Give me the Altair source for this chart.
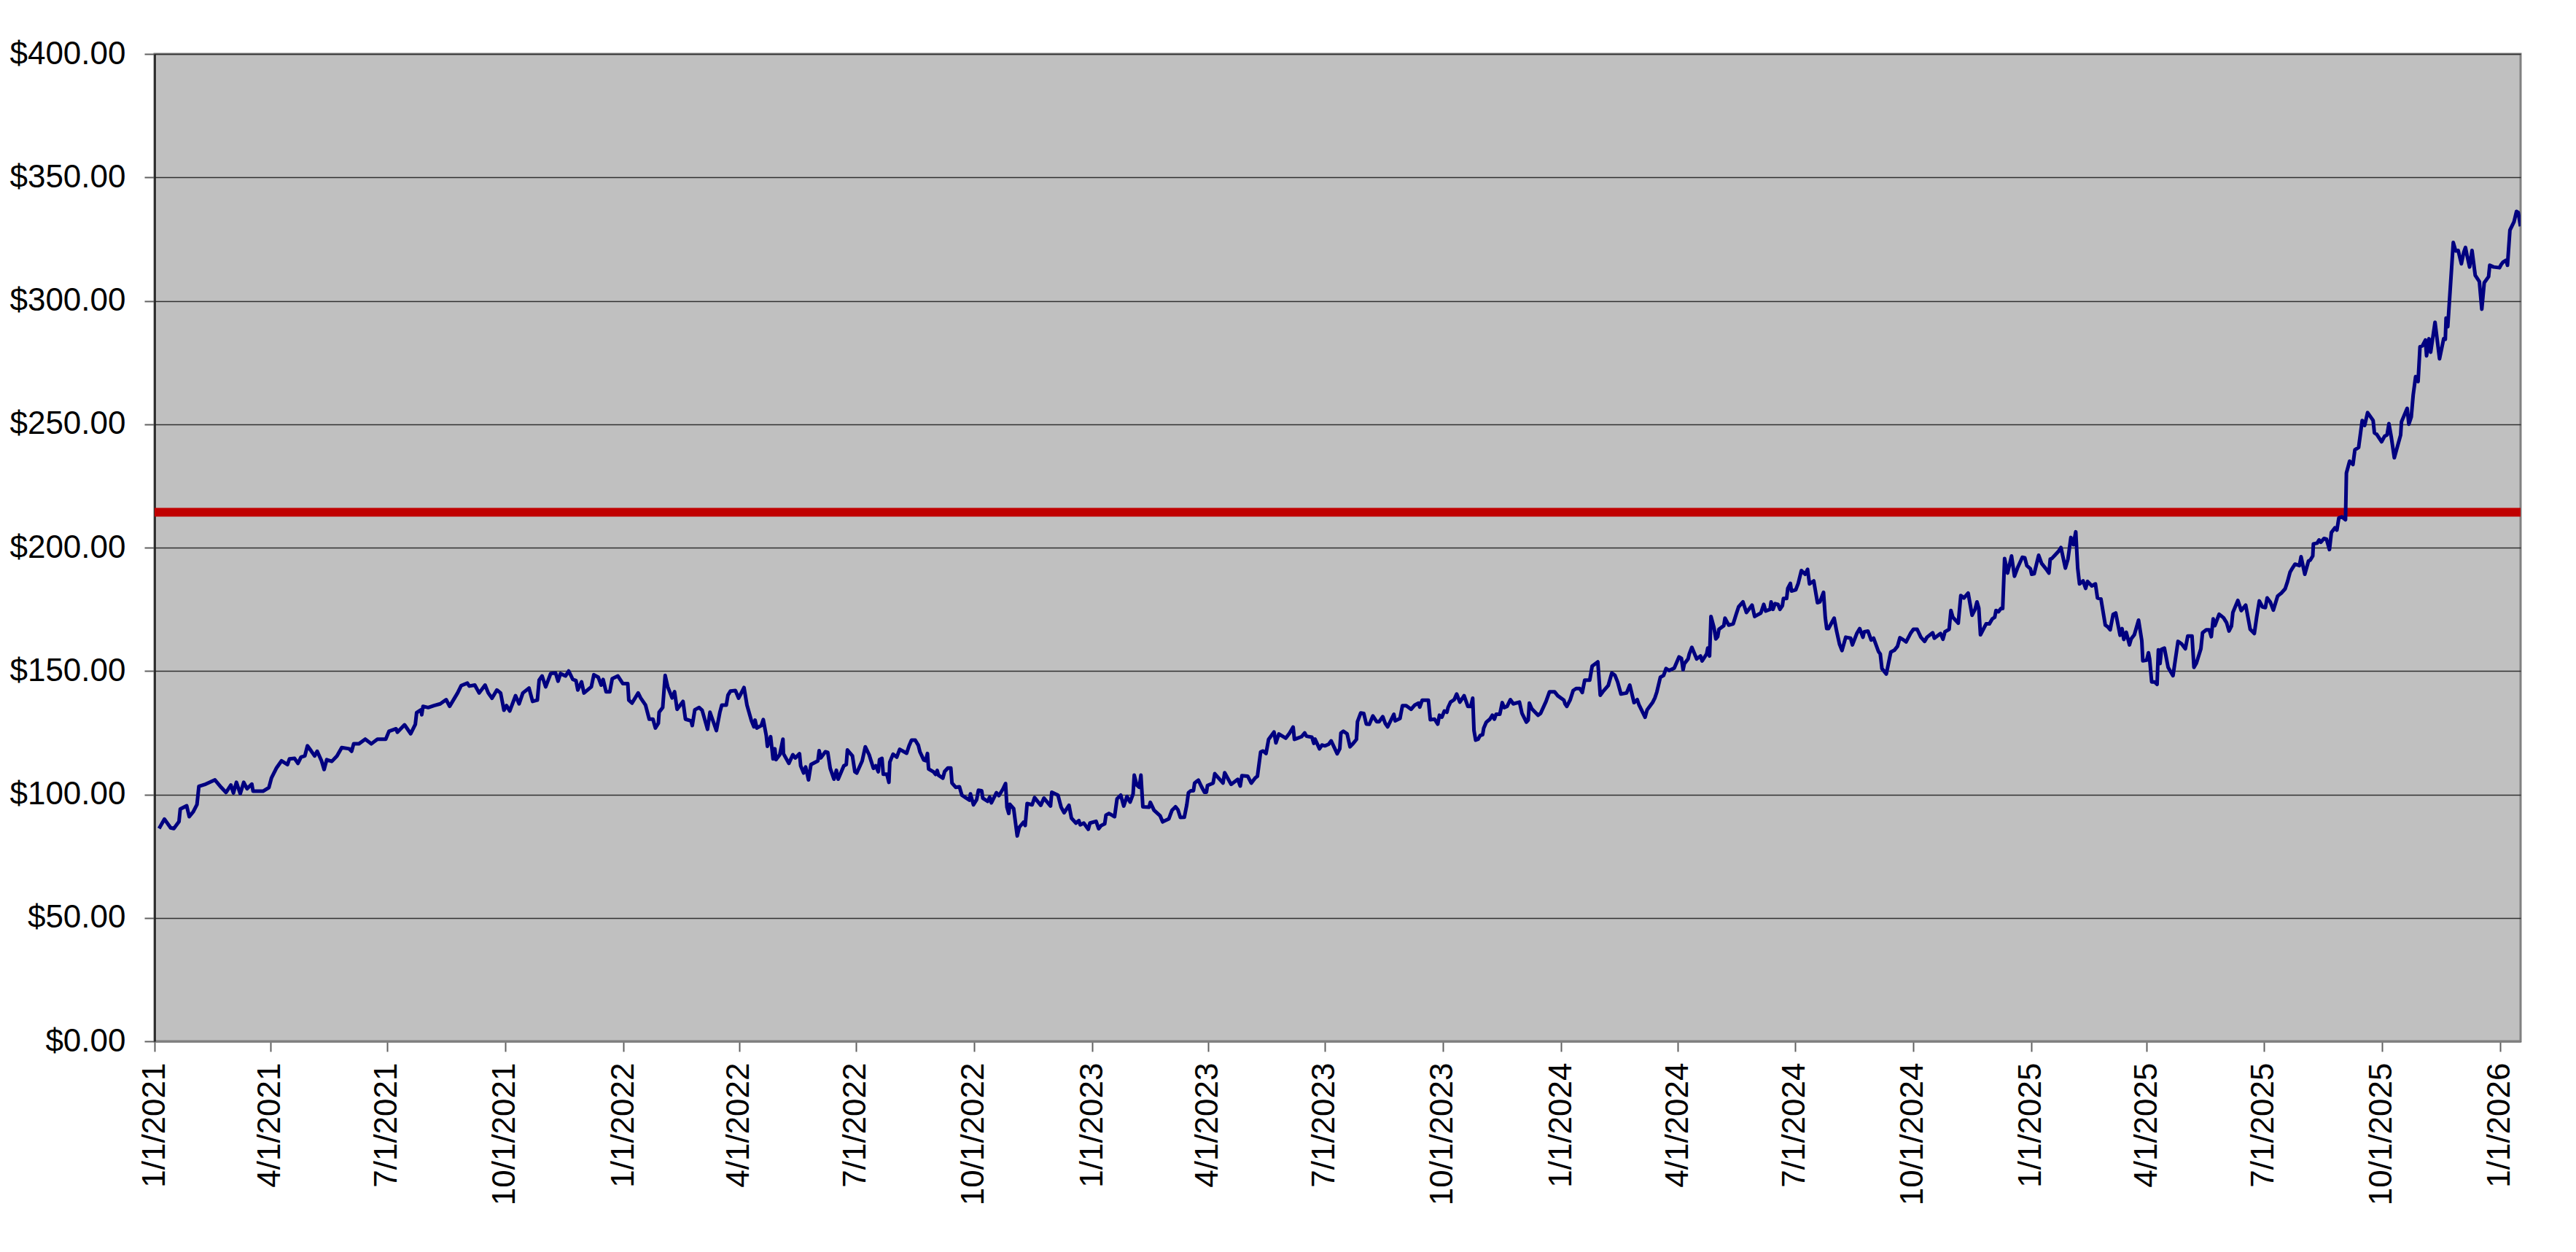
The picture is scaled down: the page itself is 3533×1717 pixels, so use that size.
import altair as alt
import pandas as pd

# Day offsets from 1/1/2021 and closing prices
days = [
    3.5, 7.7, 12.5, 15, 19, 20, 25, 27, 30, 33, 34.5, 39, 47, 52, 55.6, 59.4, 61.4, 63.7, 66.7, 69.4,
    72, 75.7, 76.7, 84.4, 89, 91, 95, 98.8, 103.5, 105, 109, 111.6, 114, 117, 119, 121.8, 124.6, 126.6,
    130, 132, 134, 138, 142, 145.7, 151.5, 153.4, 155, 159, 164, 168.7, 173.5, 180, 182.5, 188, 189,
    194.6, 199.4, 203, 204, 207.5, 208, 209, 213, 217.6, 222.4, 227, 229.7, 235.9, 238.7, 243.5, 245,
    249.3, 252.7, 257.3, 259.8, 262.7, 266.5, 269.4, 272, 274, 276.5, 281, 283.8, 286.7, 291.5, 294.3, 298,
    299.4, 301.7, 304.5, 308.4, 312.2, 314.1, 316, 319.9, 322.4, 325.6, 328.1, 329.5, 332.4, 334.3, 340,
    342, 345.4, 347.7, 349.2, 351.5, 354.4, 356.3, 360.7, 364.6, 368.4, 369.2, 371.7, 376.5, 378.4, 382.2,
    385.1, 388, 389.9, 392.2, 392.8, 395.6, 397.5, 399.5, 402.9, 404.8, 406.8, 411.4, 413.3, 417.7, 418.6,
    420.6, 424, 426.3, 430.5, 432.4, 437.4, 440.1, 441.6, 445.1, 446.4, 448.4, 452.2, 454.7, 458.9, 461.2,
    464.7, 466.6, 467.5, 468.9, 472.3, 473.9, 476.2, 477.1, 479.6, 481.5, 482.9, 483.8, 486.7, 489.2, 489.6,
    493.8, 496.9, 498.8, 502.1, 503, 505.3, 506.9, 509.1, 511, 516.4, 517.4, 518.7, 522.2, 524.1, 526,
    528.9, 530.8, 532.2, 536.6, 538.5, 539.4, 543.3, 545.2, 546.7, 550.9, 553.3, 556.3, 559.6, 561.5, 563.4,
    564.4, 566.3, 567.3, 570.1, 571.7, 572.4, 574.9, 577.8, 580.1, 585.5, 587.4, 589.3, 592.2,
    594.6, 595.9, 598.8, 600.3, 601.7, 602.6, 606.5, 608, 609.3, 610.3, 613.7, 615.1, 617.6, 619.9, 620.8,
    623.7, 626.6, 628.5, 631.4, 634.3, 635.2, 637.5, 640, 641.4, 643.9, 644.8, 648.6, 650.2, 651.5, 655.4,
    657.3, 660.5, 662.5, 663.6, 665, 665.9, 668.8, 671.6, 673.2, 676.4, 677.8, 679.3, 683.2, 685.1, 689.9,
    692.4, 697.5, 698.5, 703.3, 705.8, 708.1, 711.9, 713.8, 717.3, 719.6, 720.6, 723.4, 726.9, 728.2, 733,
    735, 736.9, 739.7, 740.7, 743, 747.4, 749.3, 752.2, 754.5, 757, 759.5, 761.8, 762.7, 764.7, 766.6,
    767.9, 769.4, 774.2, 775.2, 778.1, 782.9, 784.8, 789.6, 792.1, 794.8, 796.7, 798.6, 801.7, 803.6, 804.9,
    806.8, 808.8, 809.7, 811.6, 812.6, 815.1, 817.4, 818.9, 819.7, 824.1, 825.4, 831.8, 833.1, 838.1, 839.4,
    843.3, 845.2, 846.5, 851, 853.8, 856.7, 858.6, 861.1, 863, 865.3, 867.3, 871.5, 873, 875.3, 880.7,
    883.6, 886.4, 887.4,
    892.9, 895.4, 896.8, 901, 902.5, 903.5, 906.9, 908.8, 911.1, 914, 916, 920.7, 922.7, 923.6, 925.5,
    928.4, 930.7, 933.2, 935.7, 936.5, 939, 941.4, 943.4, 945.7, 948.5, 951.4, 953.3, 956.2, 958.1, 960,
    964.8, 965.8, 969.6, 971.5, 974.4, 978.3, 981.1, 984, 985, 986.9, 991.7, 993.2, 996.5, 999, 1000.3,
    1002.2, 1004.1, 1006.1, 1007, 1008.9, 1011.8, 1013.7, 1016.2, 1019.5, 1022.4, 1024.7, 1026.2, 1027.2,
    1028.5, 1030.4, 1032, 1033.9, 1034.8, 1036.8, 1039.6, 1041.5, 1043.1, 1044.4, 1047.3, 1049.2, 1050.7,
    1053, 1055.5, 1057.8, 1062.6, 1064.6, 1068, 1069.4, 1070.3, 1072.2, 1077, 1079, 1083.3, 1086, 1089.9,
    1092.4, 1097.2, 1098.1, 1099.5, 1102, 1104.4, 1106.7, 1109.6, 1111.5, 1113.4, 1117.3, 1119.2, 1123.6,
    1125.5, 1127.5, 1131.7, 1134.5, 1137, 1139, 1141.6, 1146, 1148.5, 1151.8, 1154.3, 1155.6, 1160.4, 1162,
    1166.2, 1168.1, 1169.6, 1172.3, 1174.8, 1176.7, 1179.2, 1183.1,
    1186.8, 1188.7, 1190, 1191, 1193.9, 1194.8, 1196.8, 1200.6, 1203.5, 1204.8, 1208.3, 1209.2, 1210.6,
    1211.7, 1214, 1215.5, 1216.9, 1217.9, 1221.7, 1222.6, 1225.5, 1229, 1231.3, 1233.2, 1236.6, 1239.3,
    1243.7, 1245.7, 1250.5, 1252.8, 1254.3, 1257.7, 1258.5, 1260, 1261.6, 1263.9, 1265.4, 1267.3, 1268.1,
    1270.6, 1271.5, 1273.5, 1274.4, 1277.7, 1279.6, 1282.1, 1285, 1286.9, 1288.4, 1291.7, 1294.6, 1296.5,
    1299.3, 1300.7, 1301.8, 1303.2, 1307.6, 1309.5, 1311.8, 1313.7, 1316.6, 1320.4, 1321.8, 1325.2, 1327.5,
    1330, 1331, 1333.9, 1336.4, 1338.3, 1342.1, 1343.5, 1344.8, 1348.2, 1351.7, 1354.4, 1356.9, 1358.8,
    1360.7, 1363.6, 1367, 1369.3, 1372.2, 1375.1, 1378, 1379.9, 1384.3, 1385.6, 1390.4, 1392.3, 1393.9,
    1397.1, 1398.5, 1400, 1404.2, 1406.2, 1408.6, 1411.9, 1415, 1417.3, 1418.8, 1420.2, 1421.5, 1425.9,
    1428.4, 1430.7, 1432.6, 1433.6, 1435.5, 1437.4, 1438.8, 1440.3, 1442.6, 1445.7, 1448, 1450.3, 1454.1,
    1456, 1457.6, 1460.4, 1461.4, 1463.3, 1466.8, 1469.1, 1472.5, 1474.8, 1475.8, 1477.1,
    1482.3, 1484.2, 1487.6, 1489.6, 1491.9, 1493.8, 1495.7, 1497.2, 1498.6, 1501.4, 1503.4, 1504.9, 1508.2,
    1511, 1512.6, 1515.3, 1518.7, 1520.6, 1522.5, 1524.8, 1526.8, 1530.2, 1531.7, 1533.1, 1535, 1537.5,
    1538.8, 1541.3, 1544.6, 1547.1, 1547.9, 1550.9, 1552.3, 1553.2, 1554.8, 1557.1, 1559, 1560, 1561.3,
    1562.4, 1564.7, 1567.6, 1571.4, 1575.3, 1578.1, 1581, 1582.9, 1586.2, 1587.7, 1589.6, 1593.1, 1594.4,
    1597.3, 1599.6, 1601.2, 1602.7, 1604, 1607.3, 1610.7, 1613.1, 1615, 1616.9, 1618, 1621.9, 1624.5, 1628,
    1631.5, 1634.7, 1636.6, 1638.6, 1641, 1643.3, 1644.7, 1647.2, 1649.5, 1652.9, 1655.8, 1658.7, 1660.6,
    1662.5, 1664.4, 1666.4, 1669.8, 1671.1, 1674, 1676.9, 1678.2, 1680.2, 1680.7, 1683.6, 1685.1, 1686.5,
    1689, 1690.9, 1693.2, 1694.7, 1697.4, 1699, 1700.5, 1702.8, 1705.7,
    1706.4, 1708.9, 1711.5, 1713, 1715.9, 1718.7, 1720.6, 1722.9, 1727.2, 1728.2, 1730, 1733.8, 1736.1,
    1738, 1739.5, 1741.4, 1743.7, 1748.6, 1749.3, 1753.7, 1755, 1756.9, 1758.4, 1760.3, 1762.2, 1763.7,
    1765.6, 1767.9, 1768.8, 1770.7, 1772, 1775.4, 1778.9, 1782.1, 1783.4, 1784, 1785.3, 1789.6, 1791.5,
    1793.4, 1795.9, 1797.8, 1799.1, 1800.4, 1802.3, 1804.2, 1806.7, 1809.9, 1811.8, 1813.7, 1817.1, 1818,
    1820.9, 1825.6, 1826.9, 1828.4, 1830.7, 1831.8, 1833.7, 1836.9, 1838.8, 1840.2, 1841.9,
]

price = [
    86.2, 90.0, 86.5, 86.2, 89.0, 94.1, 95.4, 91.0, 92.9, 95.9, 103.3, 104.0, 105.9, 102.8, 100.8, 103.8, 100.6, 104.9, 100.3, 104.9,
    102.3, 104.2, 101.3, 101.3, 102.8, 106.7, 110.8, 113.6, 112.1, 114.4, 114.6, 112.6, 115.1, 115.6, 119.7, 117.7, 115.6, 117.5,
    113.6, 110.1, 114.1, 113.4, 115.6, 119.0, 118.5, 117.5, 120.5, 120.5, 122.4, 120.5, 122.4, 122.4, 125.6, 126.6, 125.2,
    128.2, 124.6, 128.4, 133.1, 134.3, 132.3, 135.7, 135.2, 136.0, 136.7, 138.4, 135.7, 141.1, 144.1, 145.1, 143.9,
    144.3, 141.1, 144.3, 141.1, 139.0, 142.3, 141.1, 134.1, 136.0, 133.8, 140.0, 136.7, 141.1, 143.1, 137.7, 138.2,
    146.3, 148.0, 143.6, 149.0, 149.2, 145.9, 149.0, 148.0, 150.0, 146.6, 146.1, 142.3, 145.6, 141.1, 143.6,
    148.5, 147.5, 144.3, 146.6, 141.6, 141.6, 146.9, 148.0, 144.9, 144.9, 138.2, 137.0, 141.1, 139.1, 136.2,
    130.5, 130.5, 126.9, 128.8, 133.3, 135.2, 148.2, 143.6, 139.1, 141.6, 134.5, 137.7, 130.5, 129.8, 127.9,
    134.3, 135.2, 134.1, 126.4, 133.3, 125.9, 133.3, 136.2, 136.2, 140.2, 141.9, 142.1, 139.0, 143.3, 136.2,
    129.8, 127.4, 130.1, 126.9, 127.9, 130.3, 123.9, 119.5, 123.4, 114.4, 118.5, 114.1, 116.1, 122.4, 116.5,
    112.6, 116.1, 114.8, 116.5, 111.6, 108.7, 111.1, 105.9, 112.1, 113.6, 117.7, 114.8, 117.3, 117.0, 110.6,
    106.2, 109.8, 106.2, 111.6, 112.1, 118.0, 115.6, 109.2, 108.7, 113.6, 119.3, 116.1, 110.6, 111.6, 109.2,
    114.1, 114.6, 108.2, 108.2, 104.9, 113.1, 116.3, 115.1, 118.3, 116.7, 119.7, 122.0, 122.0,
    119.9, 117.2, 114.0, 113.7, 116.6, 110.3, 109.1, 108.1, 109.7, 107.8, 106.6, 109.3, 110.7, 110.7, 104.6,
    102.9, 103.1, 99.7, 98.7, 97.7, 100.2, 95.8, 97.9, 101.7, 101.5, 98.5, 97.2, 98.9, 96.6, 100.7,
    99.5, 102.2, 104.4, 94.8, 92.3, 96.0, 94.3, 83.2, 86.7, 88.7, 87.4, 96.3, 95.8, 98.7, 95.6,
    98.5, 95.3, 100.9, 99.7, 94.8, 92.6, 95.6, 90.4, 88.4, 89.4, 87.7, 88.4, 85.9, 88.4, 89.1,
    86.1, 87.4, 88.1, 91.6, 92.3, 91.0, 98.2, 99.7, 95.3, 99.2, 96.9, 100.2, 107.8, 103.8, 102.9,
    107.8, 95.0, 94.8, 96.8, 93.6, 91.3, 88.9, 90.1, 93.6, 95.0, 93.8, 90.7, 90.8, 95.8, 100.7,
    101.5, 101.5, 104.6, 105.4, 105.8, 103.1, 100.9, 100.9, 103.6, 104.6, 108.4, 104.6, 108.8, 104.1, 104.6,
    106.1, 103.4, 107.6, 107.4, 104.6, 106.6, 107.4, 117.2, 117.6, 116.6, 122.3, 125.3, 120.9, 124.5, 122.8,
    124.8, 127.3, 122.3,
    123.4, 124.9, 123.6, 123.2, 120.7, 122.4, 118.5, 120.0, 119.7, 120.3, 121.7, 116.5, 118.5, 124.9, 125.6,
    124.6, 119.3, 120.7, 122.3, 129.5, 133.0, 132.8, 128.5, 128.4, 131.8, 129.5, 129.5, 131.5, 128.8, 127.4,
    132.5, 129.8, 130.8, 136.0, 136.0, 134.5, 136.2, 137.0, 135.4, 138.2, 138.2, 130.3, 130.5, 128.5, 132.1,
    131.3, 133.8, 133.3, 135.2, 137.4, 138.4, 140.7, 137.4, 140.0, 135.7, 135.7, 139.0, 125.9,
    122.0, 122.4, 123.9, 124.2, 126.9, 129.3, 130.5, 132.1, 130.5, 132.5, 132.5, 137.2, 135.2,
    135.7, 138.4, 136.7, 137.4, 132.8, 129.3, 130.1, 137.0, 134.7, 132.1, 132.8, 137.7, 141.6, 141.6,
    140.0, 138.2, 136.7, 135.7, 138.2, 142.1, 142.9, 142.9, 141.3, 146.3, 146.3, 152.0, 153.7,
    140.2, 141.6, 144.1, 149.2, 148.2, 145.6, 140.7, 141.1, 144.3, 137.2, 138.4, 136.4, 131.3, 134.3,
    137.2, 139.2, 141.6, 147.5, 148.2, 151.0, 150.2, 151.2,
    155.7, 155.1, 150.5, 153.0, 154.9, 156.9, 159.6, 154.9, 156.1, 154.1, 156.9, 159.3, 156.1,
    172.1, 167.7, 163.0, 163.9, 166.9, 168.4, 171.4, 168.6, 169.1, 173.0, 176.0, 178.0, 173.7,
    176.7, 172.1, 173.5, 177.0, 174.3, 175.0, 178.0, 175.0, 177.3, 177.0, 175.0, 176.5, 179.4,
    179.4, 183.5, 185.5, 182.4, 182.9, 185.5, 190.7, 189.2, 191.2, 185.3, 186.5, 177.7, 178.0,
    181.9, 171.6, 167.2, 167.2, 171.4, 166.2, 160.8, 158.3, 163.7, 163.3, 160.6, 165.2, 167.2,
    163.7, 165.9, 166.2, 162.6, 163.3, 157.9, 156.9, 151.0, 148.8, 157.7, 158.4, 160.0, 163.5,
    162.9, 161.8, 165.2, 166.9, 166.9, 163.7, 162.0, 163.7, 165.5, 163.3, 165.2, 162.9, 165.9,
    166.9, 174.5, 171.8, 169.4, 180.6, 179.6, 181.6, 172.6, 175.0, 178.0, 175.5, 164.7, 169.1,
    169.1, 171.1, 171.8, 174.5, 174.0, 175.3, 175.3, 195.6, 189.7, 196.6, 188.4, 191.7, 196.1,
    195.9, 192.7, 191.4, 189.2, 189.4, 196.9, 193.6, 191.4, 189.7, 195.3, 195.6,
    198.5, 200.0, 191.7, 195.3, 204.1, 201.2, 206.4, 191.7, 185.3, 186.5, 183.5, 186.3, 184.5,
    185.3, 179.6, 179.2, 168.6, 167.9, 166.7, 173.0, 173.5, 164.5, 167.2, 162.8, 165.7, 160.6,
    163.0, 164.7, 170.6, 162.3, 154.1, 154.4, 157.4, 154.9, 145.6, 145.6, 144.6, 158.6, 153.0,
    158.8, 159.3, 151.5, 148.1, 162.0, 161.0, 159.0, 164.2, 164.2, 151.5, 153.2, 159.0, 165.5,
    166.7, 166.7, 163.9, 171.1, 168.4, 173.0, 171.6, 169.6, 166.2, 168.2, 173.7, 178.6, 174.5, 176.7,
    166.9, 165.2, 172.1, 178.4, 176.0, 175.7, 179.6, 177.9, 174.7, 180.4, 181.6, 183.3, 186.3,
    190.0, 191.7, 193.3, 192.7, 196.3, 189.2, 194.6, 194.9, 196.6, 201.5, 201.8, 203.1, 202.2,
    203.7, 203.4, 199.2, 206.1, 208.0, 207.1, 212.0, 212.5, 211.3,
    230.2, 235.0, 233.7, 239.6, 240.6, 251.5, 249.5, 254.7, 251.5, 246.5, 245.9, 242.9, 245.1,
    245.6, 250.2, 244.6, 236.4, 245.6, 251.0, 256.4, 250.0, 253.0, 261.9, 269.3, 267.3, 281.4,
    281.8, 284.1, 277.7, 284.6, 279.2, 291.3, 276.5, 284.6, 284.4, 293.0, 289.5, 323.6, 320.2,
    320.4, 315.0, 319.7, 321.6, 318.2, 313.7, 320.4, 310.3, 307.8, 296.6, 307.3, 309.8, 314.4,
    313.7, 313.4, 314.7, 315.7, 316.4, 314.4, 328.6, 332.0, 336.2, 335.8, 330.2,
]

threshold = [214.3]

tick_quarters = [(y, m) for y in range(2021, 2026) for m in (1, 4, 7, 10)] + [(2026, 1)]
y_ticks = [0, 50, 100, 150, 200, 250, 300, 350, 400]

n = min(len(days), len(price))
df = pd.DataFrame({
    "date": pd.Timestamp("2021-01-01") + pd.to_timedelta(days[:n], unit="D"),
    "price": price[:n],
    "idx": list(range(n)),
})

x_scale = alt.Scale(domain=[alt.DateTime(year=2021, month=1, date=1),
                            alt.DateTime(year=2026, month=1, date=17)])
y_scale = alt.Scale(domain=[0, 400], nice=False)

FONT = "Liberation Sans"

rule = alt.Chart(pd.DataFrame({"level": threshold})).mark_rule(
    color="#C00000", strokeWidth=12
).encode(
    y=alt.Y("level:Q", scale=y_scale)
)

line = alt.Chart(df).mark_line(
    color="#000080", strokeWidth=5, strokeJoin="round", clip=True
).encode(
    x=alt.X("date:T", scale=x_scale, title=None,
            axis=alt.Axis(values=[alt.DateTime(year=y, month=m, date=1) for y, m in tick_quarters],
                          format="%-m/%-d/%Y", labelAngle=270, labelPadding=15,
                          tickSize=14, tickColor="#606060", tickWidth=2,
                          domainColor="#808080", domainWidth=3, grid=False,
                          labelFont=FONT, labelFontSize=44, labelColor="#000000",
                          labelOverlap=False, labelLimit=0)),
    y=alt.Y("price:Q", scale=y_scale, title=None,
            axis=alt.Axis(values=y_ticks, format="$,.2f", labelPadding=26,
                          tickSize=14, tickColor="#606060", tickWidth=2,
                          domainColor="#202020", domainWidth=2.5,
                          grid=True, gridColor="#303030", gridWidth=1.5,
                          labelFont=FONT, labelFontSize=44, labelColor="#000000",
                          labelLimit=0)),
    order="idx:Q",
)

chart = alt.layer(rule, line).properties(
    width=3245,
    height=1354,
    padding={"left": 204, "top": 66, "right": 60, "bottom": 260},
    autosize=alt.AutoSizeParams(type="none"),
    background="#FFFFFF",
).configure_view(
    fill="#C0C0C0", stroke="#808080", strokeWidth=3
)

chart.save("out.html", embed_options={"renderer": "svg", "actions": False})
